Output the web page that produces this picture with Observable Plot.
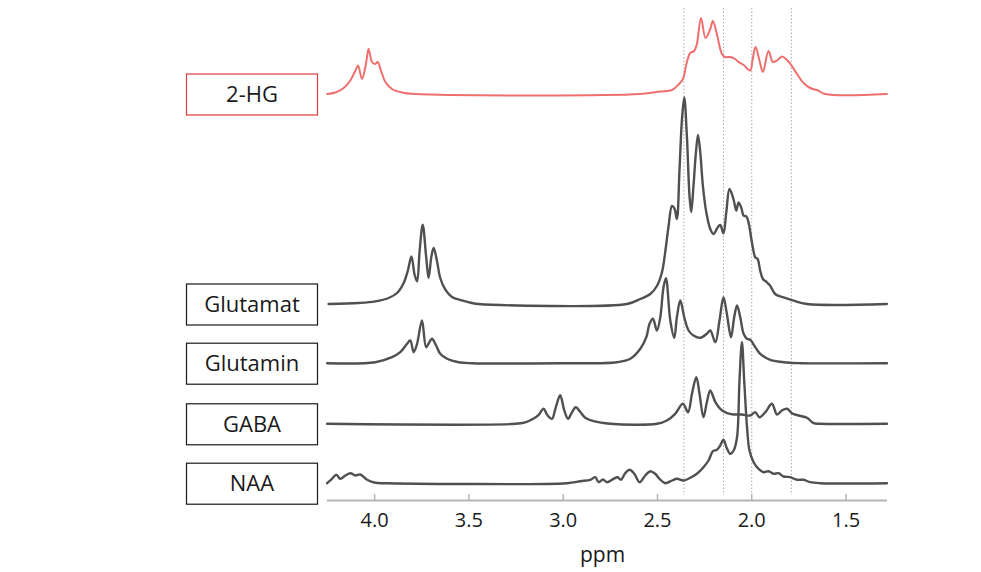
<!DOCTYPE html>
<html><head><meta charset="utf-8">
<script src="https://cdn.jsdelivr.net/npm/d3@7"></script>
<script src="https://cdn.jsdelivr.net/npm/@observablehq/plot@0.6"></script>
<style>
body{margin:0;background:#fff;}
#chart{width:981px;height:572px;}
</style>
</head><body><div id="chart"></div>
<script>
// ---- data: [ppm, intensity (a.u.)] ----
const seriesNames = ["2-HG", "Glutamat", "Glutamin", "GABA", "NAA"];
const ppmTicks = [4.0, 3.5, 3.0, 2.5, 2.0, 1.5];
const markerPpm = [2.36, 2.15, 2.00, 1.79];

const hg2 = [[4.252,0],[4.208,1.5],[4.164,6],[4.129,13.5],[4.102,23.5],[4.088,28.5],[4.067,15],[4.046,30],[4.032,45],[4.014,32],[3.996,30],[3.984,32],[3.964,22],[3.943,12],[3.908,5],[3.855,1.5],[3.784,0],[2.591,0],[2.486,2.5],[2.423,4],[2.388,9.5],[2.365,15],[2.344,32],[2.326,41],[2.305,43],[2.291,50],[2.269,76],[2.245,56],[2.220,65],[2.206,73],[2.185,60],[2.158,40],[2.141,37],[2.114,37],[2.088,35],[2.070,32],[2.043,29],[2.008,23.5],[1.996,33.5],[1.980,47],[1.959,33.5],[1.941,22],[1.911,43],[1.888,32],[1.866,33.5],[1.840,37.5],[1.813,34],[1.787,28],[1.760,20],[1.725,11],[1.690,6],[1.654,4],[1.610,0],[1.283,0]];

const glutamat = [[4.244,0],[4.085,1],[3.996,2.6],[3.926,6],[3.881,11],[3.846,21],[3.823,34],[3.805,47.6],[3.788,29.3],[3.775,22.6],[3.761,54],[3.745,79.3],[3.727,47.6],[3.714,26],[3.699,47.6],[3.687,56],[3.669,42.6],[3.652,26],[3.625,14.3],[3.590,7],[3.537,3.6],[3.484,1],[3.449,0],[2.662,0],[2.591,5],[2.538,10],[2.503,18],[2.476,31.7],[2.459,51.7],[2.441,78],[2.423,98],[2.409,95],[2.397,85],[2.383,135],[2.370,185],[2.358,206.6],[2.344,168],[2.330,108],[2.321,92],[2.309,118],[2.296,151.6],[2.285,169],[2.273,151.6],[2.259,118],[2.241,91.6],[2.220,75],[2.203,70],[2.181,76.6],[2.167,79],[2.150,70.6],[2.135,91.6],[2.118,115],[2.097,105],[2.082,93.3],[2.070,101.6],[2.056,96.6],[2.043,88.3],[2.029,87.6],[2.017,81.6],[1.999,61.6],[1.981,46.6],[1.969,45],[1.955,33.3],[1.941,25],[1.923,22.3],[1.902,18.3],[1.876,10],[1.831,6.6],[1.778,3.3],[1.707,0],[1.283,0]];

const glutamin = [[4.252,0],[3.996,1],[3.908,6],[3.864,11],[3.828,19.4],[3.811,22.7],[3.793,11],[3.775,19.4],[3.749,42.7],[3.727,16],[3.710,21],[3.696,24.4],[3.674,17.7],[3.652,9.4],[3.616,4.4],[3.555,1],[3.484,0],[3.015,0],[2.715,1],[2.644,4.4],[2.591,14.4],[2.559,26],[2.542,39.4],[2.524,44.4],[2.503,32.7],[2.485,46],[2.468,76],[2.455,85],[2.432,42.7],[2.411,25.4],[2.397,46],[2.379,62.7],[2.358,46],[2.335,32.7],[2.309,27.7],[2.273,25.4],[2.238,29.4],[2.220,32.7],[2.193,21],[2.171,42.7],[2.150,66],[2.132,49.4],[2.110,26],[2.093,46],[2.078,57.7],[2.061,46],[2.043,29.4],[2.025,24.4],[2.008,23.4],[1.981,16],[1.955,9.4],[1.902,3.4],[1.813,0.7],[1.743,0],[1.283,0]];

const gaba = [[4.252,0],[3.254,0],[3.201,1.5],[3.159,5],[3.130,9],[3.104,15],[3.085,9],[3.060,5],[3.040,16],[3.016,28.5],[2.995,14],[2.974,5],[2.955,11],[2.933,16.6],[2.910,12],[2.883,6],[2.839,2.6],[2.750,0],[2.503,0],[2.450,3.3],[2.406,10],[2.365,20],[2.338,11.6],[2.317,30],[2.294,46.6],[2.277,30],[2.256,6.6],[2.238,21.6],[2.220,33.3],[2.193,21.6],[2.167,15],[2.131,10.6],[2.096,9.3],[2.052,9.3],[2.008,8.3],[1.981,11.6],[1.959,6.6],[1.928,11.6],[1.893,20],[1.866,9.3],[1.840,13.3],[1.813,15],[1.787,10.6],[1.752,8.3],[1.707,6],[1.672,0.6],[1.637,0],[1.283,0]];

const naa = [[4.252,0],[4.226,4.4],[4.203,8.4],[4.182,4.4],[4.155,7.7],[4.129,10],[4.102,7.7],[4.076,8.7],[4.040,3.4],[3.996,0.4],[3.934,0],[2.980,0],[2.909,2],[2.856,3.4],[2.830,6],[2.812,1],[2.789,3.7],[2.768,1],[2.733,4.4],[2.712,6],[2.694,3.4],[2.671,10],[2.648,13.4],[2.623,9.4],[2.595,1],[2.565,7.7],[2.538,12],[2.512,9.4],[2.489,4.4],[2.459,0],[2.423,2.7],[2.397,4.4],[2.362,2.7],[2.326,5.4],[2.291,9.4],[2.256,16],[2.229,22.7],[2.206,32],[2.185,33.4],[2.167,37.7],[2.150,43.4],[2.131,34.4],[2.114,29.4],[2.096,32.7],[2.078,46],[2.065,102.7],[2.052,141],[2.040,102.7],[2.025,56],[2.012,32.7],[1.990,21],[1.964,14.4],[1.937,11],[1.911,12],[1.884,9.4],[1.858,10],[1.831,6.7],[1.796,6],[1.760,3.4],[1.725,3.4],[1.690,1],[1.637,0],[1.283,0]];

// ---- layout (stack offsets of each trace, in intensity units) ----
const spectra = [hg2, glutamat, glutamin, gaba, naa];
const stackOffsets = [406.5, 196.5, 137.3, 76.7, 17.3];

const rows = [];
seriesNames.forEach((name, i) => {
  spectra[i].forEach(([ppm, v]) => rows.push({name, ppm, v, y: v + stackOffsets[i]}));
});
const grayRows = rows.filter(d => d.name !== "2-HG");
const redRows = rows.filter(d => d.name === "2-HG");

const FONT = "'Open Sans', sans-serif";

const plot = Plot.plot({
  width: 981,
  height: 572,
  marginLeft: 327,
  marginRight: 94,
  marginTop: 0,
  marginBottom: 72,
  style: {fontFamily: FONT, background: "#fff", color: "#1a1a1a"},
  x: {domain: [4.25, 1.28]},
  y: {domain: [0, 500], axis: null},
  marks: [
    Plot.ruleX(markerPpm, {stroke: "#a8a8a8", strokeWidth: 1, strokeDasharray: "1.5,2", insetTop: 8, insetBottom: 5}),
    Plot.ruleY([0], {stroke: "#b4b4b4", strokeWidth: 2}),
    Plot.ruleX(ppmTicks, {y1: 0, y2: 6, stroke: "#b4b4b4", strokeWidth: 1.5}),
    Plot.axisX(ppmTicks, {tickSize: 0, tickPadding: 12, fontSize: 20, tickFormat: d => d.toFixed(1), label: null, fill: "#1a1a1a"}),
    Plot.text(["ppm"], {frameAnchor: "bottom", dy: 61, dx: -5, fontSize: 21, fill: "#1a1a1a"}),
    Plot.line(grayRows, {x: "ppm", y: "y", z: "name", stroke: "#505050", strokeWidth: 2.4, strokeLinejoin: "round", curve: "catmull-rom"}),
    Plot.line(redRows, {x: "ppm", y: "y", z: "name", stroke: "#ef6f6f", strokeWidth: 2, strokeLinejoin: "round", curve: "catmull-rom"})
  ]
});

// label boxes positioned through the plot's y scale
const yScale = plot.scale("y");
const svg = d3.select(plot);
const g = svg.append("g");
seriesNames.forEach((name, i) => {
  const cy = yScale.apply(stackOffsets[i]) + 1;
  g.append("rect")
    .attr("x", 186.5).attr("y", cy - 20.5)
    .attr("width", 131).attr("height", 41)
    .attr("fill", "#fff")
    .attr("stroke", name === "2-HG" ? "#e03a3a" : "#1a1a1a")
    .attr("stroke-width", 1.2);
  g.append("text")
    .attr("x", 252).attr("y", cy)
    .attr("dy", "0.35em")
    .attr("text-anchor", "middle")
    .attr("font-family", FONT)
    .attr("font-size", 22)
    .attr("fill", "#1a1a1a")
    .text(name);
});

document.getElementById("chart").appendChild(plot);
</script>
</body></html>
